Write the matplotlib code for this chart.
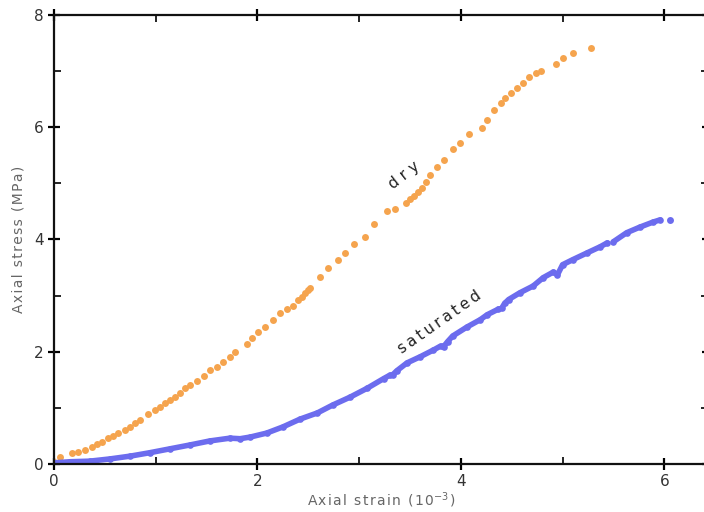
import matplotlib
matplotlib.use("Agg")
import matplotlib.pyplot as plt
from matplotlib.ticker import MultipleLocator

# ---- data ----
dry_strain = [0.00, 0.06, 0.18, 0.24, 0.30, 0.37, 0.42, 0.47, 0.53, 0.58, 0.63, 0.70,
              0.75, 0.80, 0.85, 0.92, 0.99, 1.04, 1.09, 1.14, 1.19, 1.24, 1.29, 1.34,
              1.41, 1.47, 1.53, 1.60, 1.66, 1.73, 1.78, 1.90, 1.95, 2.01, 2.07, 2.15,
              2.22, 2.29, 2.35, 2.40, 2.44, 2.47, 2.50, 2.52, 2.62, 2.69, 2.79, 2.86,
              2.95, 3.06, 3.15, 3.27, 3.35, 3.46, 3.50, 3.54, 3.58, 3.62, 3.66, 3.70,
              3.77, 3.83, 3.92, 3.99, 4.08, 4.21, 4.26, 4.33, 4.39, 4.43, 4.49, 4.55,
              4.61, 4.67, 4.74, 4.79, 4.94, 5.00, 5.10, 5.28]
dry_stress = [0.04, 0.12, 0.20, 0.21, 0.25, 0.30, 0.36, 0.39, 0.46, 0.50, 0.55, 0.61,
              0.66, 0.73, 0.78, 0.89, 0.96, 1.02, 1.09, 1.14, 1.19, 1.27, 1.35, 1.41,
              1.48, 1.57, 1.68, 1.73, 1.82, 1.91, 2.00, 2.14, 2.25, 2.35, 2.44, 2.57,
              2.69, 2.76, 2.82, 2.92, 2.98, 3.05, 3.10, 3.14, 3.33, 3.49, 3.64, 3.76,
              3.92, 4.05, 4.28, 4.51, 4.55, 4.65, 4.72, 4.78, 4.85, 4.92, 5.03, 5.15,
              5.29, 5.42, 5.61, 5.72, 5.88, 5.99, 6.13, 6.31, 6.43, 6.52, 6.61, 6.70,
              6.79, 6.90, 6.97, 7.01, 7.13, 7.24, 7.33, 7.42]

sat_strain = [0.00, 0.16, 0.35, 0.55, 0.75, 0.94, 1.14, 1.34, 1.53, 1.73, 1.83, 1.93,
              2.09, 2.25, 2.42, 2.59, 2.74, 2.91, 3.08, 3.24, 3.30, 3.33, 3.37, 3.47,
              3.60, 3.73, 3.80, 3.83, 3.87, 3.92, 4.06, 4.19, 4.26, 4.37, 4.40, 4.43,
              4.47, 4.58, 4.71, 4.81, 4.91, 4.95, 5.00, 5.10, 5.24, 5.37, 5.44]
sat_stress = [0.02, 0.04, 0.05, 0.09, 0.14, 0.20, 0.27, 0.34, 0.41, 0.46, 0.45, 0.48,
              0.55, 0.66, 0.80, 0.91, 1.05, 1.19, 1.35, 1.52, 1.58, 1.59, 1.66, 1.80,
              1.91, 2.03, 2.10, 2.09, 2.18, 2.28, 2.44, 2.57, 2.66, 2.76, 2.77, 2.86,
              2.93, 3.05, 3.17, 3.32, 3.42, 3.37, 3.55, 3.64, 3.76, 3.87, 3.94]
sat2_strain = [5.50, 5.63, 5.76, 5.89, 5.96]
sat2_stress = [3.96, 4.12, 4.22, 4.31, 4.35]
sat_last_strain = [6.06]
sat_last_stress = [4.35]

x_ticks = [0, 2, 4, 6]
y_ticks = [0, 2, 4, 6, 8]

ORANGE = "#F5A44E"
BLUE = "#6C6CEE"

def spaced(s, sep="\u200a"):
    return sep.join(list(s))

fig = plt.figure(figsize=(7.04, 5.12), dpi=100)
ax = fig.add_axes([0.0767, 0.0938, 0.929, 0.877])

ax.plot(dry_strain, dry_stress, linestyle="none", marker="o", ms=5.0,
        mec="none", color=ORANGE)
for xs, ys in [(sat_strain, sat_stress), (sat2_strain, sat2_stress)]:
    ax.plot(xs, ys, linestyle="-", lw=4.0, marker="o", ms=4.8, mec="none",
            color=BLUE, solid_capstyle="round", solid_joinstyle="round")
ax.plot(sat_last_strain, sat_last_stress, linestyle="none", marker="o", ms=5.0,
        mec="none", color=BLUE)

ax.set_xlim(0, 6.43)
ax.set_ylim(0, 8)
ax.set_xticks(x_ticks)
ax.set_yticks(y_ticks)
ax.xaxis.set_minor_locator(MultipleLocator(1))
ax.yaxis.set_minor_locator(MultipleLocator(1))

for sp in ax.spines.values():
    sp.set_linewidth(1.6)
    sp.set_color("#111111")

ax.tick_params(which="major", direction="inout", length=9, width=1.6,
               top=True, right=True, labelsize=11, labelcolor="#333333", pad=3)
ax.tick_params(which="minor", direction="in", length=5, width=1.2,
               top=True, right=True)

ax.set_xlabel("A\u200ax\u200ai\u200aa\u200al\u2009 s\u200at\u200ar\u200aa\u200ai\u200an\u2009 (\u200a1\u200a0$^{-3}$\u200a)",
              fontsize=10, color="#666666", labelpad=1)
ax.set_ylabel(spaced("Axial") + "\u2009 " + spaced("stress") + "\u2009 " + spaced("(MPa)"),
              fontsize=10, color="#666666", labelpad=6)

ax.text(3.44, 5.15, "d r y", rotation=38, fontsize=11, color="#222222",
        ha="center", va="center", rotation_mode="anchor")
ax.text(3.79, 2.53, spaced("saturated", "\u2009"), rotation=35, fontsize=11,
        color="#222222", ha="center", va="center", rotation_mode="anchor")

fig.savefig("out.png", dpi=100)
